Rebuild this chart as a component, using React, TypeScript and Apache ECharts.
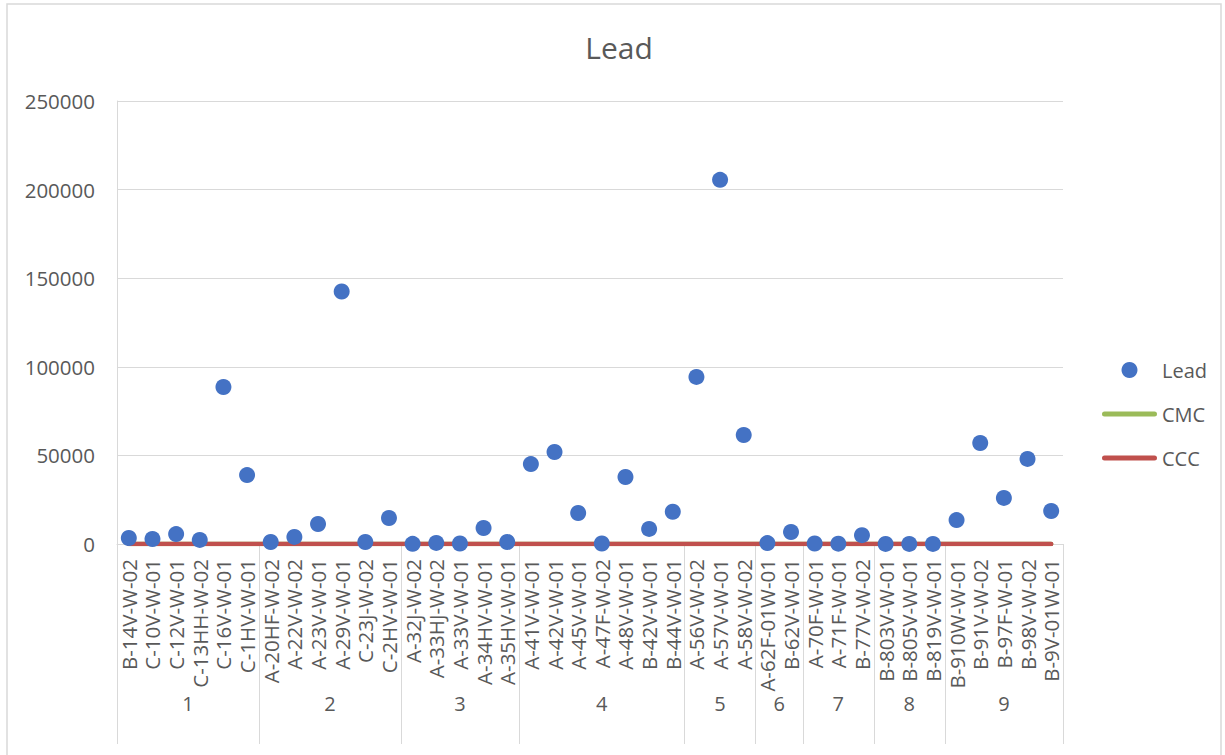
import React, { useEffect, useRef } from "react";
import * as echarts from "echarts";

const categories = [
  "B-14V-W-02", "C-10V-W-01", "C-12V-W-01", "C-13HH-W-02", "C-16V-W-01", "C-1HV-W-01",
  "A-20HF-W-02", "A-22V-W-02", "A-23V-W-01", "A-29V-W-01", "C-23J-W-02", "C-2HV-W-01",
  "A-32J-W-02", "A-33HJ-W-02", "A-33V-W-01", "A-34HV-W-01", "A-35HV-W-01",
  "A-41V-W-01", "A-42V-W-01", "A-45V-W-01", "A-47F-W-02", "A-48V-W-01", "B-42V-W-01", "B-44V-W-01",
  "A-56V-W-02", "A-57V-W-01", "A-58V-W-02",
  "A-62F-01W-01", "B-62V-W-01",
  "A-70F-W-01", "A-71F-W-01", "B-77V-W-02",
  "B-803V-W-01", "B-805V-W-01", "B-819V-W-01",
  "B-910W-W-01", "B-91V-W-02", "B-97F-W-01", "B-98V-W-02", "B-9V-01W-01",
];

const groupLabels = ["1", "2", "3", "4", "5", "6", "7", "8", "9"];
const groupSizes = [6, 6, 5, 7, 3, 2, 3, 3, 5];

const leadValues = [
  3400, 2800, 5600, 2300, 88600, 38900,
  1100, 4000, 11300, 142500, 1100, 14700,
  100, 600, 300, 9000, 1100,
  45100, 51900, 17500, 300, 37800, 8500, 18200,
  94300, 205500, 61500,
  500, 6800,
  300, 200, 5000,
  50, 50, 50,
  13500, 57000, 26000, 48000, 18600,
];

const cmcLimit = 10;
const cccLimit = 10;
const cmcValues = categories.map(() => cmcLimit);
const cccValues = categories.map(() => cccLimit);

const yTicks = { min: 0, max: 250000, interval: 50000 };

const FONT = "'Open Sans', 'Noto Sans', sans-serif";
const TEXT = "#595959";
const GRID = "#d9d9d9";
const LINE_ICON = "path://M2.5,0 H52.5 A2.5,2.5 0 0 1 52.5,5 H2.5 A2.5,2.5 0 0 1 2.5,0 Z";

export default function App() {
  const ref = useRef<HTMLDivElement>(null);

  useEffect(() => {
    document.body.style.margin = "0";
    if (!ref.current) return;
    const chart = echarts.init(ref.current, null, { renderer: "svg" });

    const boundaries: number[] = [0];
    groupSizes.forEach((s) => boundaries.push(boundaries[boundaries.length - 1] + s));
    const centers = groupSizes.map((s, i) => boundaries[i] + s / 2);

    chart.setOption({
      animation: false,
      textStyle: { fontFamily: FONT },
      title: {
        text: "Lead",
        left: 614,
        textAlign: "center",
        top: 27,
        textStyle: { fontSize: 30, fontWeight: "normal", color: TEXT, fontFamily: FONT },
      },
      graphic: [
        {
          type: "rect",
          shape: { x: 7, y: 4, width: 1214, height: 780 },
          style: { fill: "none", stroke: GRID, lineWidth: 1.5 },
          silent: true,
          z: -10,
        },
      ],
      legend: {
        orient: "vertical",
        left: 1097,
        top: 355,
        itemWidth: 55,
        itemHeight: 16,
        itemGap: 24,
        textStyle: { fontSize: 20, color: TEXT, fontFamily: FONT },
        data: [
          { name: "Lead", icon: "circle" },
          { name: "CMC", icon: LINE_ICON },
          { name: "CCC", icon: LINE_ICON },
        ],
      },
      grid: { left: 117, right: 162, top: 101, bottom: 211, containLabel: false },
      xAxis: [
        {
          type: "category",
          data: categories,
          boundaryGap: true,
          axisLine: { show: true, lineStyle: { color: GRID, width: 1 } },
          axisTick: { show: false },
          axisLabel: {
            interval: 0,
            rotate: 90,
            fontSize: 20.5,
            color: TEXT,
            fontFamily: FONT,
            margin: 15,
          },
          splitLine: { show: false },
        },
        {
          type: "value",
          position: "bottom",
          min: 0,
          max: categories.length,
          axisLine: { show: false },
          splitLine: { show: false },
          axisTick: {
            show: true,
            customValues: boundaries,
            length: 200,
            lineStyle: { color: GRID, width: 1 },
          },
          axisLabel: {
            show: true,
            customValues: centers,
            margin: 149,
            fontSize: 20,
            color: TEXT,
            fontFamily: FONT,
            formatter: (v: number) => {
              const i = centers.indexOf(v);
              return i >= 0 ? groupLabels[i] : "";
            },
          },
        },
      ],
      yAxis: {
        type: "value",
        min: yTicks.min,
        max: yTicks.max,
        interval: yTicks.interval,
        axisLine: { show: true, lineStyle: { color: GRID } },
        axisTick: { show: false },
        axisLabel: {
          fontSize: 20.5,
          color: TEXT,
          fontFamily: FONT,
          margin: 22,
          formatter: (v: number) => String(v),
        },
        splitLine: { show: true, lineStyle: { color: GRID, width: 1 } },
      },
      series: [
        {
          name: "CMC",
          type: "line",
          data: cmcValues,
          symbol: "none",
          xAxisIndex: 0,
          lineStyle: { color: "#9BBB59", width: 4.5, cap: "round" },
          itemStyle: { color: "#9BBB59" },
          z: 2,
        },
        {
          name: "CCC",
          type: "line",
          data: cccValues,
          symbol: "none",
          xAxisIndex: 0,
          lineStyle: { color: "#C0504D", width: 4.5, cap: "round" },
          itemStyle: { color: "#C0504D" },
          z: 3,
        },
        {
          name: "Lead",
          type: "scatter",
          data: leadValues,
          xAxisIndex: 0,
          symbolSize: 16,
          itemStyle: { color: "#4472C4", opacity: 1 },
          z: 4,
        },
      ],
    });

    return () => chart.dispose();
  }, []);

  return <div ref={ref} style={{ width: 1225, height: 755 }} />;
}
